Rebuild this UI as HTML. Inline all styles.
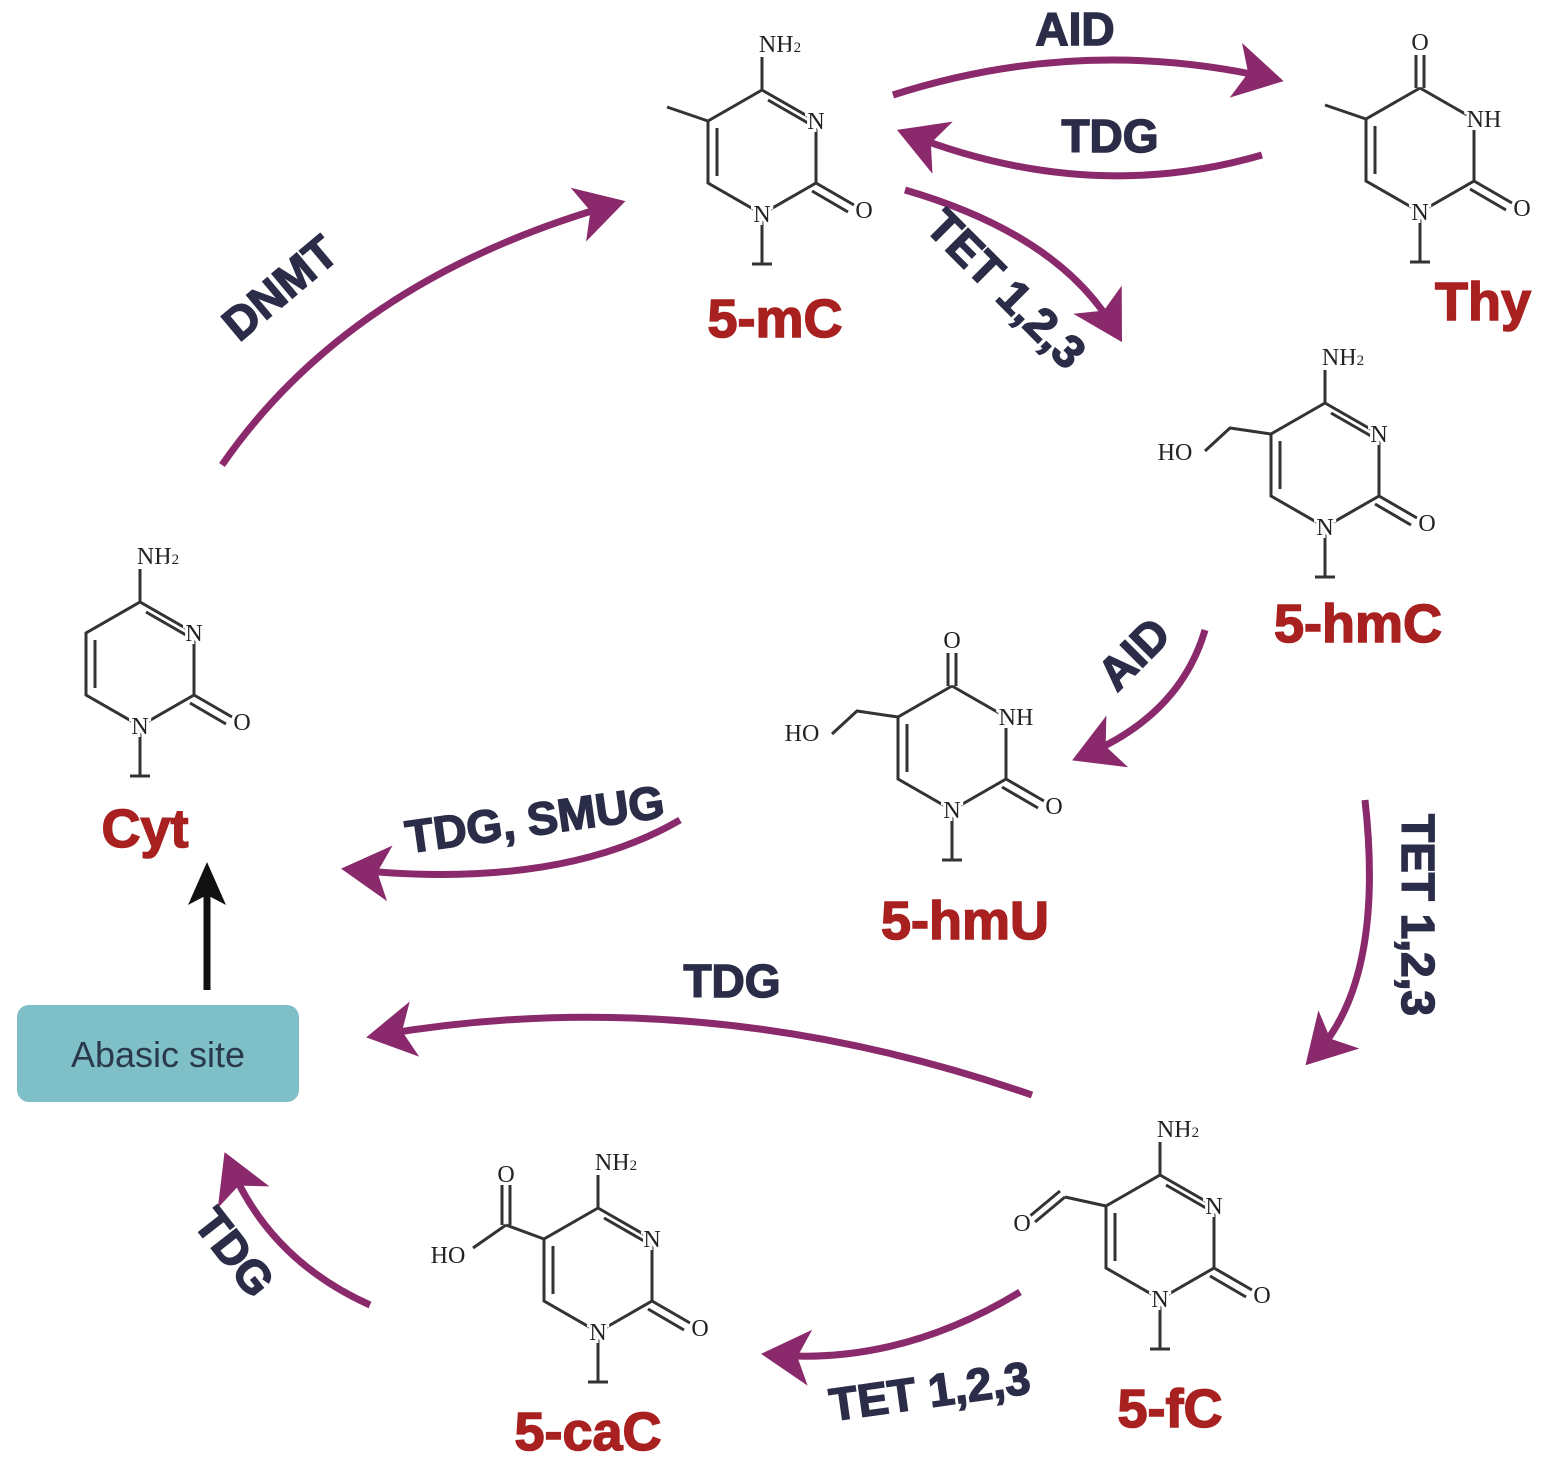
<!DOCTYPE html>
<html><head><meta charset="utf-8">
<style>
html,body{margin:0;padding:0;background:#fff;}
svg{display:block;}
.lab{font-family:"Liberation Sans",sans-serif;font-weight:bold;font-size:54px;fill:#a8201f;stroke:#a8201f;stroke-width:1.5px;text-anchor:middle;}
.enz{font-family:"Liberation Sans",sans-serif;font-weight:bold;font-size:46px;fill:#2b2d48;stroke:#2b2d48;stroke-width:1.5px;text-anchor:middle;}
.atom{font-family:"Liberation Serif",serif;font-size:24px;fill:#222;text-anchor:middle;stroke:#fff;stroke-width:6px;paint-order:stroke;}
.b{stroke:#333;stroke-width:3;fill:none;}
.arr{stroke:#8a2a6c;stroke-width:7;fill:none;marker-end:url(#ah);}
</style></head><body>
<svg width="1544" height="1479" viewBox="0 0 1544 1479" xmlns="http://www.w3.org/2000/svg">
<defs>
<marker id="ah" markerWidth="8" markerHeight="8" refX="5" refY="4" orient="auto" markerUnits="strokeWidth">
<path d="M0,0 L7,4 L0,8 L1.8,4 Z" fill="#8a2a6c"/>
</marker>
<g id="ring">
<polyline class="b" points="0,-62 54,-31 54,31 0,62 -54,31 -54,-31 0,-62"/>
<line class="b" x1="-45" y1="-24" x2="-45" y2="24"/>
<line class="b" x1="0" y1="62" x2="0" y2="112"/>
<line class="b" x1="-10" y1="112" x2="10" y2="112"/>
<line class="b" x1="54" y1="31" x2="92" y2="53"/>
<line class="b" x1="50" y1="39" x2="86" y2="60"/>
<text class="atom" x="102" y="66">O</text>
<text class="atom" x="0" y="70">N</text>
</g>
<g id="cyt">
<use href="#ring"/>
<line class="b" x1="6" y1="-52" x2="46" y2="-29"/>
<line class="b" x1="0" y1="-62" x2="0" y2="-95"/>
<text class="atom" x="54" y="-23">N</text>
<text class="atom" x="18" y="-100">NH<tspan font-size="15">2</tspan></text>
</g>
<g id="ura">
<use href="#ring"/>
<line class="b" x1="-4" y1="-62" x2="-4" y2="-95"/>
<line class="b" x1="4" y1="-62" x2="4" y2="-95"/>
<text class="atom" x="0" y="-100">O</text>
<text class="atom" x="64" y="-23">NH</text>
</g>
</defs>

<g transform="translate(762,152)"><use href="#cyt"/><line class="b" x1="-54" y1="-31" x2="-95" y2="-45"/></g>
<text class="lab" x="775" y="337">5-mC</text>

<g transform="translate(1420,150)"><use href="#ura"/><line class="b" x1="-54" y1="-31" x2="-95" y2="-45"/></g>
<text class="lab" x="1483" y="320">Thy</text>

<g transform="translate(1325,465)"><use href="#cyt"/>
<polyline class="b" points="-54,-31 -95,-37 -120,-14"/>
<text class="atom" x="-150" y="-5">HO</text></g>
<text class="lab" x="1358" y="642">5-hmC</text>

<g transform="translate(952,748)"><use href="#ura"/>
<polyline class="b" points="-54,-31 -95,-37 -120,-14"/>
<text class="atom" x="-150" y="-7">HO</text></g>
<text class="lab" x="965" y="939">5-hmU</text>

<g transform="translate(140,664)"><use href="#cyt"/></g>
<text class="lab" x="145" y="847">Cyt</text>

<g transform="translate(1160,1237)"><use href="#cyt"/>
<polyline class="b" points="-54,-31 -95,-40"/>
<line class="b" x1="-95" y1="-40" x2="-125" y2="-15"/>
<line class="b" x1="-100" y1="-46" x2="-130" y2="-21"/>
<text class="atom" x="-138" y="-6">O</text></g>
<text class="lab" x="1170" y="1427">5-fC</text>

<g transform="translate(598,1270)"><use href="#cyt"/>
<line class="b" x1="-54" y1="-31" x2="-92" y2="-45"/>
<line class="b" x1="-96" y1="-45" x2="-96" y2="-85"/>
<line class="b" x1="-88" y1="-45" x2="-88" y2="-85"/>
<line class="b" x1="-92" y1="-45" x2="-125" y2="-22"/>
<text class="atom" x="-92" y="-88">O</text>
<text class="atom" x="-150" y="-7">HO</text></g>
<text class="lab" x="588" y="1450">5-caC</text>

<path class="arr" d="M893,95 Q1080,35 1270,78"/>
<path class="arr" d="M1262,155 Q1090,205 910,135"/>
<path class="arr" d="M905,190 Q1060,235 1115,330"/>
<path class="arr" d="M222,465 Q350,280 612,205"/>
<path class="arr" d="M1205,630 Q1180,715 1085,755"/>
<path class="arr" d="M1365,800 Q1385,980 1315,1055"/>
<path class="arr" d="M680,820 Q560,890 355,870"/>
<path class="arr" d="M1032,1095 Q700,980 380,1035"/>
<path class="arr" d="M1020,1292 Q900,1365 775,1355"/>
<path class="arr" d="M370,1305 Q270,1260 230,1165"/>
<line x1="207" y1="990" x2="207" y2="895" stroke="#111" stroke-width="7"/>
<polygon points="207,862 188,905 207,895 226,905" fill="#111"/>

<rect x="17" y="1005" width="282" height="97" rx="12" fill="#7fbfc8"/>
<text x="158" y="1067" font-family="Liberation Sans,sans-serif" font-size="36" fill="#2a3a4a" text-anchor="middle">Abasic site</text>

<text class="enz" x="1075" y="45">AID</text>
<text class="enz" x="1110" y="152">TDG</text>
<text class="enz" transform="translate(995,300) rotate(45)">TET 1,2,3</text>
<text class="enz" transform="translate(290,300) rotate(-40)">DNMT</text>
<text class="enz" transform="translate(1145,665) rotate(-45)">AID</text>
<text class="enz" transform="translate(1402,915) rotate(90)">TET 1,2,3</text>
<text class="enz" transform="translate(537,835) rotate(-8)">TDG, SMUG</text>
<text class="enz" x="732" y="997">TDG</text>
<text class="enz" transform="translate(932,1407) rotate(-8)">TET 1,2,3</text>
<text class="enz" transform="translate(222,1262) rotate(52)">TDG</text>
</svg>
</body></html>
